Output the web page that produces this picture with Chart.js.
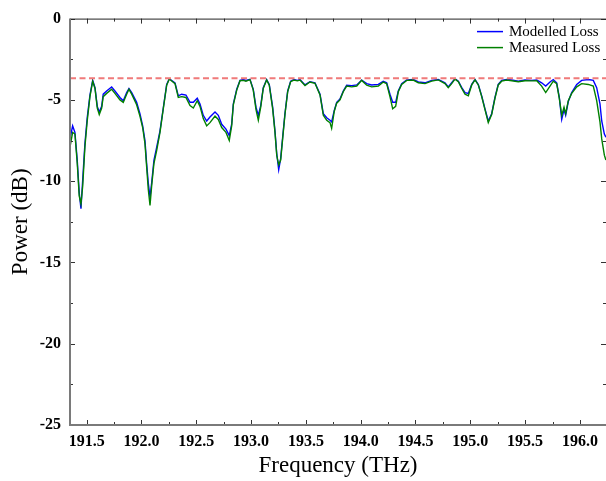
<!DOCTYPE html>
<html>
<head>
<meta charset="utf-8">
<script src="https://cdn.jsdelivr.net/npm/chart.js@4.4.1/dist/chart.umd.min.js"></script>
<style>
    html, body { margin: 0; padding: 0; background: #fff; }
    #wrap { width: 606px; height: 481px; }
</style>
</head>
<body>
<div id="wrap"><canvas id="lossChart" width="606" height="481"></canvas></div>
<script>
// Frequency samples (THz)
const freqs = [
    191.348, 191.372, 191.393, 191.414, 191.432, 191.448, 191.464, 191.484, 191.505, 191.530,
    191.555, 191.576, 191.597, 191.615, 191.637, 191.651, 191.682, 191.728, 191.758, 191.804,
    191.834, 191.865, 191.886, 191.911, 191.956, 191.986, 192.011, 192.032, 192.047, 192.062,
    192.078, 192.093, 192.114, 192.139, 192.169, 192.199, 192.230, 192.254, 192.306, 192.336,
    192.367, 192.406, 192.443, 192.473, 192.509, 192.534, 192.564, 192.595, 192.625, 192.671,
    192.701, 192.732, 192.771, 192.801, 192.823, 192.838, 192.869, 192.899, 192.929, 192.953,
    192.990, 193.020, 193.045, 193.066, 193.088, 193.111, 193.142, 193.166, 193.197, 193.218,
    193.234, 193.252, 193.270, 193.288, 193.309, 193.334, 193.361, 193.391, 193.422, 193.446,
    193.492, 193.537, 193.583, 193.629, 193.659, 193.690, 193.720, 193.735, 193.759, 193.781,
    193.811, 193.841, 193.872, 193.918, 193.964, 194.009, 194.055, 194.100, 194.161, 194.206,
    194.237, 194.267, 194.292, 194.319, 194.343, 194.374, 194.420, 194.480, 194.526, 194.587,
    194.648, 194.708, 194.769, 194.799, 194.830, 194.860, 194.891, 194.922, 194.952, 194.982,
    195.013, 195.043, 195.073, 195.104, 195.134, 195.164, 195.195, 195.225, 195.255, 195.286,
    195.332, 195.378, 195.438, 195.499, 195.560, 195.606, 195.651, 195.688, 195.727, 195.757,
    195.788, 195.812, 195.834, 195.855, 195.870, 195.894, 195.925, 195.971, 196.016, 196.077,
    196.122, 196.153, 196.183, 196.199, 196.223, 196.237
];

// Modelled loss (dB)
const modelled = [
    -7.4, -6.6, -7.0, -8.7, -10.7, -11.7, -9.9, -7.7, -6.1, -4.7,
    -3.8, -4.25, -5.4, -5.75, -5.4, -4.65, -4.45, -4.2, -4.45, -4.85,
    -5.05, -4.55, -4.3, -4.55, -5.15, -5.85, -6.6, -7.5, -8.9, -10.1,
    -11.0, -10.1, -8.7, -7.9, -6.9, -5.5, -4.05, -3.7, -3.95, -4.75,
    -4.65, -4.7, -5.15, -5.15, -4.9, -5.25, -5.95, -6.3, -6.05, -5.75,
    -5.95, -6.5, -6.8, -7.2, -6.5, -5.25, -4.35, -3.8, -3.75, -3.8,
    -3.73, -4.35, -5.45, -5.95, -5.35, -4.25, -3.75, -4.05, -5.45, -6.9,
    -8.3, -9.3, -8.6, -7.3, -5.85, -4.45, -3.85, -3.75, -3.8, -3.75,
    -4.08, -3.88, -3.95, -4.65, -5.85, -6.1, -6.25, -6.35, -5.65, -5.15,
    -4.95, -4.45, -4.1, -4.12, -4.08, -3.78, -4.0, -4.08, -4.05, -3.85,
    -3.95, -4.65, -5.15, -5.15, -4.45, -4.0, -3.78, -3.75, -3.9, -3.95,
    -3.8, -3.75, -3.95, -4.2, -3.95, -3.7, -3.85, -4.25, -4.55, -4.6,
    -4.05, -3.75, -4.05, -4.75, -5.55, -6.3, -5.85, -4.85, -4.05, -3.8,
    -3.75, -3.78, -3.85, -3.78, -3.8, -3.78, -3.95, -4.15, -3.9, -3.75,
    -3.95, -4.85, -6.2, -5.6, -5.95, -5.1, -4.55, -4.05, -3.8, -3.75,
    -3.8, -4.25, -5.25, -6.3, -7.1, -7.3
];

// Measured loss (dB)
const measured = [
    -7.9, -7.0, -7.1, -8.9, -10.9, -11.4, -10.3, -7.9, -6.3, -4.8,
    -3.85, -4.3, -5.5, -5.9, -5.5, -4.8, -4.6, -4.35, -4.6, -5.0,
    -5.15, -4.65, -4.35, -4.65, -5.3, -6.0, -6.7, -7.7, -9.1, -10.5,
    -11.5, -10.3, -8.9, -8.1, -7.0, -5.55, -4.1, -3.72, -4.0, -4.85,
    -4.8, -4.85, -5.35, -5.5, -5.05, -5.4, -6.15, -6.6, -6.4, -6.0,
    -6.2, -6.7, -7.0, -7.5, -6.6, -5.3, -4.4, -3.82, -3.8, -3.85,
    -3.75, -4.4, -5.6, -6.25, -5.45, -4.3, -3.78, -4.1, -5.55, -7.0,
    -8.4, -9.0, -8.7, -7.4, -5.9, -4.5, -3.88, -3.78, -3.83, -3.78,
    -4.12, -3.9, -3.98, -4.7, -5.95, -6.25, -6.4, -6.75, -5.7, -5.2,
    -5.0, -4.5, -4.15, -4.2, -4.15, -3.8, -4.1, -4.2, -4.15, -3.9,
    -4.0, -4.8, -5.55, -5.4, -4.5, -4.05, -3.8, -3.78, -3.95, -4.0,
    -3.85, -3.77, -4.0, -4.25, -4.0, -3.72, -3.88, -4.3, -4.65, -4.75,
    -4.08, -3.77, -4.08, -4.8, -5.6, -6.4, -5.9, -4.9, -4.08, -3.85,
    -3.78, -3.82, -3.88, -3.82, -3.83, -3.82, -4.15, -4.55, -4.15, -3.85,
    -4.0, -4.9, -5.95, -5.45, -5.85, -5.05, -4.6, -4.2, -4.0, -4.05,
    -4.15, -5.05, -6.35, -7.4, -8.4, -8.7
];

// Reference level (red dashed line) and axis range
const refLevel = -3.67;
const freqRange = [191.348, 196.238];
const powerRange = [-25, 0];
const seriesLabels = ['Modelled Loss', 'Measured Loss'];

function toPoints(xs, ys) {
    return xs.map((x, i) => ({ x: x, y: ys[i] }));
}

// Inward ticks + frame, drawn like the original plotting tool
const framePlugin = {
    id: 'frame',
    afterDatasetsDraw(chart) {
        const { ctx, chartArea: a, scales } = chart;
        const xs = scales.x, ys = scales.y;
        ctx.save();
        ctx.strokeStyle = '#333';
        ctx.lineWidth = 1;
        ctx.beginPath();
        for (let v = 191.5; v <= 196.01; v += 0.25) {
            const px = Math.round(xs.getPixelForValue(v)) + 0.5;
            const len = Math.abs((v * 2) % 1) < 0.01 ? 5 : 3;
            ctx.moveTo(px, a.bottom); ctx.lineTo(px, a.bottom - len);
            ctx.moveTo(px, a.top); ctx.lineTo(px, a.top + len);
        }
        for (let v = -25; v <= 0; v += 2.5) {
            const py = Math.round(ys.getPixelForValue(v)) + 0.5;
            const len = Math.abs(v % 5) < 0.01 ? 5 : 3;
            ctx.moveTo(a.left, py); ctx.lineTo(a.left + len, py);
            ctx.moveTo(a.right, py); ctx.lineTo(a.right - len, py);
        }
        ctx.stroke();

        ctx.beginPath();
        ctx.strokeStyle = '#222';
        ctx.moveTo(a.left, a.top + 0.5); ctx.lineTo(a.right, a.top + 0.5);
        ctx.stroke();
        ctx.beginPath();
        ctx.strokeStyle = '#7a7a7a';
        ctx.lineWidth = 2;
        ctx.moveTo(a.left, a.top); ctx.lineTo(a.left, a.bottom); ctx.lineTo(a.right, a.bottom);
        ctx.stroke();

        // legend, top right inside the plot
        const items = [chart.data.datasets[0], chart.data.datasets[1]];
        ctx.font = '15px "Liberation Serif"';
        ctx.textBaseline = 'middle';
        ctx.textAlign = 'left';
        items.forEach((ds, i) => {
            const y = a.top + 13 + i * 16;
            ctx.beginPath();
            ctx.strokeStyle = ds.borderColor;
            ctx.lineWidth = 1.5;
            ctx.moveTo(a.right - 129, y); ctx.lineTo(a.right - 103, y);
            ctx.stroke();
            ctx.fillStyle = '#000';
            ctx.fillText(ds.label, a.right - 97, y);
        });
        ctx.restore();
    }
};

Chart.defaults.font.family = '"Liberation Serif", "Times New Roman", serif';
Chart.defaults.color = '#000';

new Chart(document.getElementById('lossChart').getContext('2d'), {
    type: 'line',
    data: {
        datasets: [
            {
                label: seriesLabels[0],
                data: toPoints(freqs, modelled),
                borderColor: '#0000ff',
                borderWidth: 1.4,
                pointRadius: 0,
                order: 2
            },
            {
                label: seriesLabels[1],
                data: toPoints(freqs, measured),
                borderColor: '#008000',
                borderWidth: 1.4,
                pointRadius: 0,
                order: 1
            },
            {
                label: 'Reference',
                data: toPoints(freqRange, [refLevel, refLevel]),
                borderColor: '#f07a7a',
                borderWidth: 2,
                borderDash: [6, 3.5],
                pointRadius: 0,
                order: 0
            }
        ]
    },
    options: {
        responsive: false,
        animation: false,
        layout: { padding: { top: 13, right: 0, left: 0, bottom: 0 } },
        plugins: {
            legend: { display: false },
            tooltip: { enabled: false }
        },
        scales: {
            x: {
                type: 'linear',
                min: freqRange[0],
                max: freqRange[1],
                afterFit: scale => { scale.height = 56; },
                grid: { display: false, drawTicks: false },
                border: { display: false },
                ticks: {
                    stepSize: 0.5,
                    includeBounds: false,
                    padding: 7,
                    maxRotation: 0,
                    autoSkip: false,
                    font: { size: 16, weight: 'bold' },
                    callback: value => value.toFixed(1)
                },
                title: {
                    display: true,
                    text: 'Frequency (THz)',
                    font: { size: 23 },
                    padding: { top: 0, bottom: 1 }
                }
            },
            y: {
                min: powerRange[0],
                max: powerRange[1],
                afterFit: scale => { scale.width = 70; },
                grid: { display: false, drawTicks: false },
                border: { display: false },
                ticks: {
                    stepSize: 5,
                    padding: 9,
                    font: { size: 16, weight: 'bold' }
                },
                title: {
                    display: true,
                    text: 'Power (dB)',
                    font: { size: 23 },
                    padding: { top: 7, bottom: 0 }
                }
            }
        }
    },
    plugins: [framePlugin]
});
</script>
</body>
</html>
